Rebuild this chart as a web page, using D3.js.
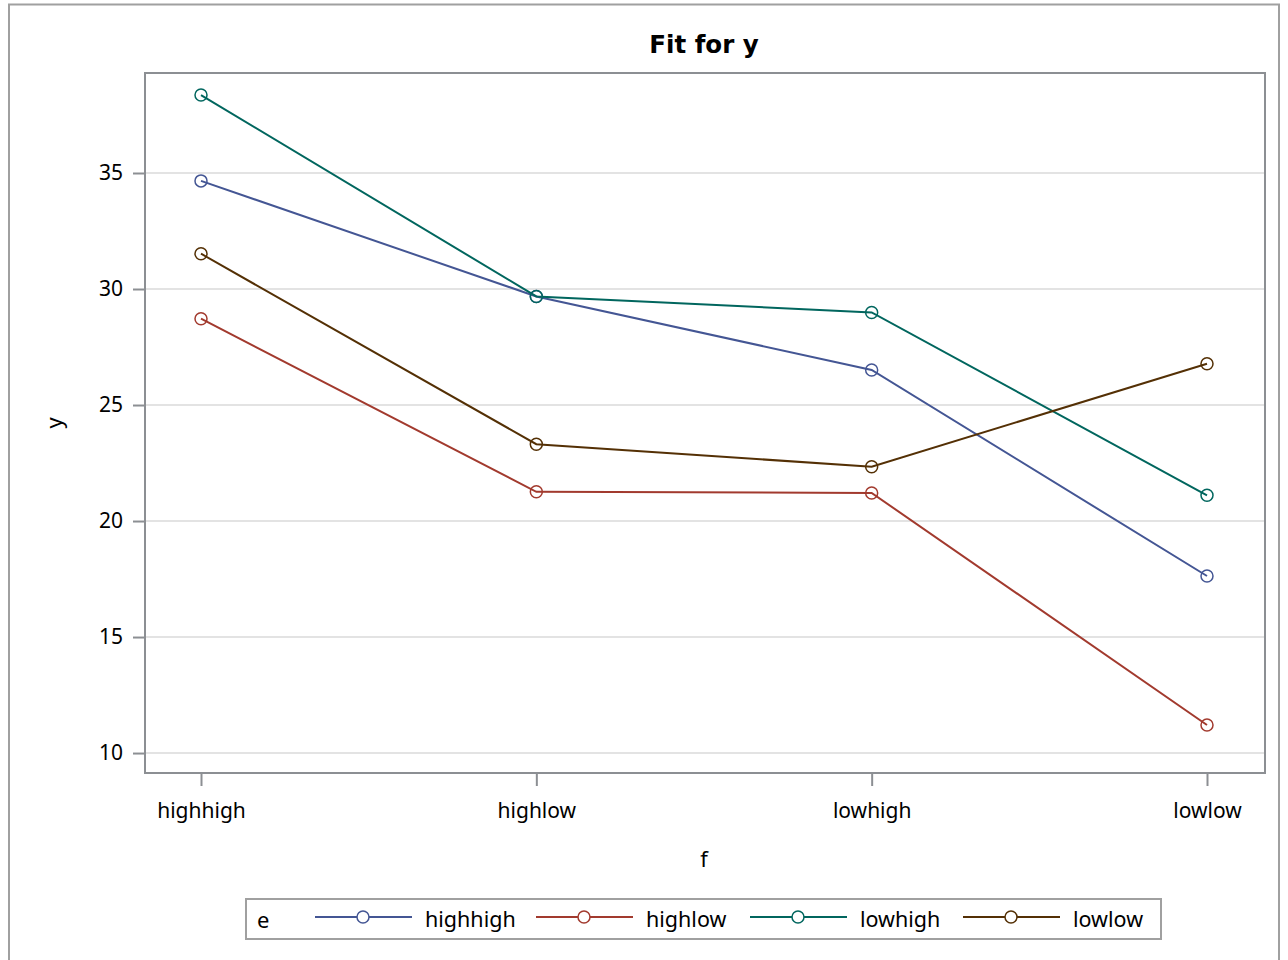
<!DOCTYPE html>
<html><head><meta charset="utf-8">
<script src="https://cdn.jsdelivr.net/npm/d3@7"></script>
<style>body{margin:0;background:#fff;} text{font-family:"Noto Sans","Open Sans",sans-serif;}</style>
</head><body><svg id="c" width="1288" height="960"></svg>
<script>
const categories = ["highhigh","highlow","lowhigh","lowlow"];
const seriesNames = ["highhigh","highlow","lowhigh","lowlow"];
const valsHighhigh = [34.66, 29.68, 26.51, 17.63];
const valsHighlow  = [28.72, 21.26, 21.21, 11.21];
const valsLowhigh  = [38.36, 29.68, 28.99, 21.11];
const valsLowlow   = [31.52, 23.31, 22.34, 26.78];
const yTicks = [10,15,20,25,30,35];
const colors = ["#445694","#A23A2E","#01665E","#543005"];
const allVals = [valsHighhigh, valsHighlow, valsLowhigh, valsLowlow];

const svg = d3.select("#c");
const L=145, R=1265, T=73, B=773;
svg.append("rect").attr("x",9).attr("y",4.5).attr("width",1270).attr("height",970)
  .attr("fill","none").attr("stroke","#a0a0a0").attr("stroke-width",2);

const x = d3.scalePoint().domain(categories).range([L,R-2]).padding(0.167);
const y = d3.scaleLinear().domain([9.14,39.31]).range([B,T]);

// grid
svg.append("g").selectAll("line").data(yTicks).join("line")
  .attr("x1",L).attr("x2",R).attr("y1",d=>y(d)).attr("y2",d=>y(d))
  .attr("stroke","#e3e3e3").attr("stroke-width",2);

// axes
const ya = svg.append("g").attr("transform",`translate(${L},0)`)
  .call(d3.axisLeft(y).tickValues(yTicks).tickSize(12).tickPadding(10));
const xa = svg.append("g").attr("transform",`translate(0,${B})`)
  .call(d3.axisBottom(x).tickSize(13).tickPadding(17));
[ya,xa].forEach(g=>{
  g.select(".domain").remove();
  g.selectAll(".tick line").attr("stroke","#8c8f93").attr("stroke-width",2);
  g.selectAll(".tick text").attr("font-size",21).attr("fill","#000")
   .style("font-family","'Noto Sans','Open Sans',sans-serif");
});
svg.append("rect").attr("x",L).attr("y",T).attr("width",R-L).attr("height",B-T)
  .attr("fill","none").attr("stroke","#8c8f93").attr("stroke-width",2);

// lines
const line = d3.line().x((d,i)=>x(categories[i])).y(d=>y(d));
allVals.forEach((vals,s)=>{
  svg.append("path").datum(vals).attr("d",line).attr("fill","none")
    .attr("stroke",colors[s]).attr("stroke-width",2);
});
allVals.forEach((vals,s)=>{
  svg.append("g").selectAll("circle").data(vals).join("circle")
    .attr("cx",(d,i)=>x(categories[i])).attr("cy",d=>y(d)).attr("r",6)
    .attr("fill","none").attr("stroke",colors[s]).attr("stroke-width",1.5);
});

// titles
svg.append("text").attr("x",704).attr("y",53).attr("text-anchor","middle")
  .attr("font-size",24.5).attr("font-weight","bold")
  .style("font-family","'DejaVu Sans',sans-serif").text("Fit for y");
svg.append("text").attr("x",704).attr("y",867).attr("text-anchor","middle")
  .attr("font-size",22).text("f");
svg.append("text").attr("transform","translate(62,423) rotate(-90)").attr("text-anchor","middle")
  .attr("font-size",22).text("y");

// legend
svg.append("rect").attr("x",246).attr("y",899).attr("width",915).attr("height",40)
  .attr("fill","none").attr("stroke","#a0a0a0").attr("stroke-width",2);
svg.append("text").attr("x",257).attr("y",928).attr("font-size",22).text("e");
const legX = [315,536,750,963];
seriesNames.forEach((n,s)=>{
  const g = svg.append("g");
  g.append("line").attr("x1",legX[s]).attr("x2",legX[s]+97).attr("y1",917).attr("y2",917)
    .attr("stroke",colors[s]).attr("stroke-width",2);
  g.append("circle").attr("cx",legX[s]+48).attr("cy",917).attr("r",6)
    .attr("fill","#fff").attr("stroke",colors[s]).attr("stroke-width",1.5);
  g.append("text").attr("x",legX[s]+110).attr("y",927).attr("font-size",21.5).text(n);
});
</script></body></html>
